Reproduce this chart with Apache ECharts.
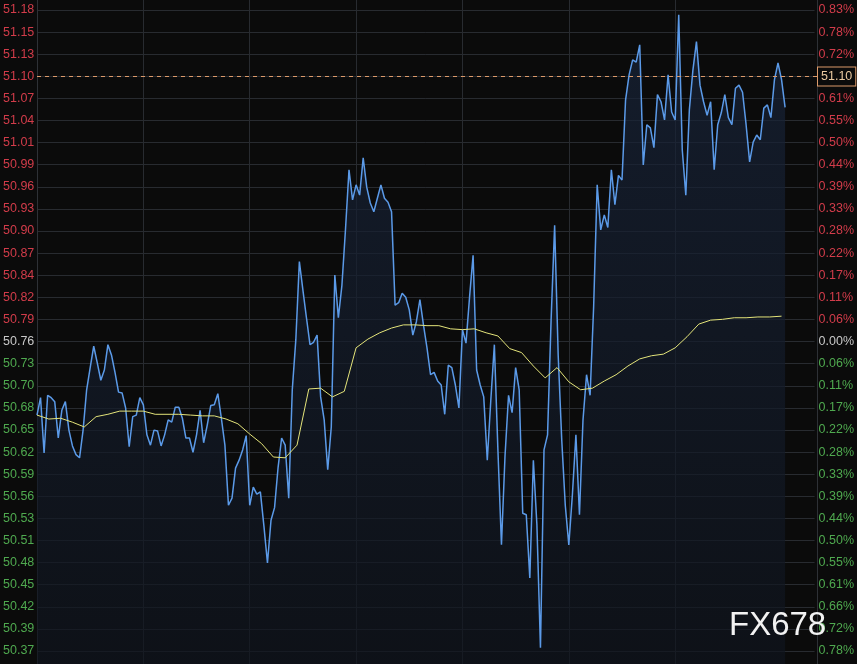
<!DOCTYPE html>
<html>
<head>
<meta charset="utf-8">
<script src="https://cdn.jsdelivr.net/npm/echarts@6/dist/echarts.min.js"></script>
<style>
html,body{margin:0;padding:0;background:#0b0b0b;}
#chart{width:857px;height:664px;}
</style>
</head>
<body>
<div id="chart"></div>
<script>
// Tick labels (top to bottom)
const leftLabels = ["51.18","51.15","51.13","51.10","51.07","51.04","51.01","50.99","50.96","50.93","50.90","50.87","50.84","50.82","50.79","50.76","50.73","50.70","50.68","50.65","50.62","50.59","50.56","50.53","50.51","50.48","50.45","50.42","50.39","50.37"];
const rightLabels = ["0.83%","0.78%","0.72%","0.66%","0.61%","0.55%","0.50%","0.44%","0.39%","0.33%","0.28%","0.22%","0.17%","0.11%","0.06%","0.00%","0.06%","0.11%","0.17%","0.22%","0.28%","0.33%","0.39%","0.44%","0.50%","0.55%","0.61%","0.66%","0.72%","0.78%"];

// Session: 1320 minutes, price sampled every 6 minutes, average every 20 minutes
const priceTimes = Array.from({length: 221}, (_, i) => i * 6);
const avgTimes = Array.from({length: 67}, (_, i) => i * 20);

const price = [
50.672,50.694,50.624,50.697,50.694,50.689,50.643,50.678,50.689,50.653,
50.633,50.622,50.618,50.653,50.704,50.732,50.759,50.738,50.716,50.729,
50.761,50.748,50.726,50.701,50.700,50.681,50.632,50.670,50.672,50.694,
50.685,50.647,50.634,50.653,50.652,50.633,50.647,50.666,50.663,50.682,
50.682,50.668,50.643,50.643,50.625,50.647,50.678,50.637,50.659,50.684,
50.685,50.699,50.668,50.634,50.558,50.567,50.605,50.615,50.628,50.646,
50.558,50.581,50.572,50.575,50.532,50.485,50.539,50.555,50.606,50.643,
50.634,50.567,50.704,50.767,50.866,50.830,50.795,50.761,50.764,50.773,
50.695,50.666,50.603,50.657,50.849,50.795,50.836,50.906,50.982,50.944,
50.963,50.950,50.997,50.960,50.940,50.929,50.946,50.963,50.946,50.941,
50.929,50.811,50.814,50.826,50.821,50.805,50.773,50.790,50.818,50.786,
50.757,50.723,50.726,50.715,50.710,50.673,50.735,50.732,50.710,50.681,
50.780,50.763,50.821,50.874,50.729,50.710,50.695,50.615,50.691,50.761,
50.628,50.508,50.620,50.697,50.675,50.732,50.704,50.548,50.546,50.466,
50.615,50.533,50.378,50.628,50.647,50.792,50.912,50.748,50.641,50.558,
50.508,50.571,50.647,50.546,50.666,50.723,50.697,50.809,50.963,50.906,
50.925,50.909,50.982,50.938,50.975,50.969,51.070,51.102,51.121,51.118,
51.140,50.988,51.039,51.035,51.010,51.077,51.068,51.045,51.102,51.055,
51.045,51.178,51.007,50.950,51.058,51.108,51.144,51.089,51.068,51.051,
51.068,50.982,51.039,51.054,51.077,51.048,51.039,51.085,51.089,51.080,
51.039,50.992,51.017,51.026,51.020,51.060,51.064,51.048,51.096,51.117,
51.096,51.061
];

const avgPrice = [
50.672,50.667,50.668,50.663,50.657,50.670,50.673,50.677,50.677,50.677,
50.673,50.673,50.673,50.672,50.671,50.671,50.667,50.661,50.648,50.636,
50.619,50.618,50.634,50.705,50.706,50.695,50.702,50.757,50.768,50.776,
50.782,50.786,50.786,50.785,50.785,50.781,50.780,50.781,50.776,50.772,
50.756,50.751,50.734,50.719,50.732,50.714,50.704,50.706,50.715,50.723,
50.734,50.743,50.747,50.749,50.757,50.771,50.787,50.792,50.793,50.795,
50.795,50.796,50.796,50.797
];

const lastPrice = 51.10;
const priceMin = 50.3574;
const priceMax = 51.1966;

const RED = '#d23c4a', GREEN = '#4fa94f', NEUTRAL = '#c8c8c8';
function labelColor(v) {
  const k = 29 - Math.round(v);
  if (k < 15) return RED;
  if (k === 15) return NEUTRAL;
  return GREEN;
}
const FONT = '"Liberation Sans", Arial, sans-serif';
const GRIDLINE = '#282b30';

const chart = echarts.init(document.getElementById('chart'), null, {renderer: 'canvas'});
chart.setOption({
  animation: false,
  backgroundColor: '#0b0b0b',
  grid: [
    {left: 37, right: 40, top: 0, bottom: 0},
    {left: 37, right: 40, top: 10, bottom: 13}
  ],
  xAxis: [
    {type: 'category', gridIndex: 0, data: priceTimes, boundaryGap: false,
     axisLine: {show: false}, axisTick: {show: false}, axisLabel: {show: false},
     splitLine: {show: true, interval: (idx) => idx % 30 === 0 && idx > 0 && idx < 210, lineStyle: {color: GRIDLINE, width: 1}}},
    {type: 'category', gridIndex: 0, data: avgTimes, boundaryGap: false, show: false},
    {type: 'value', gridIndex: 1, show: false, min: 0, max: 1}
  ],
  yAxis: [
    {type: 'value', gridIndex: 0, min: priceMin, max: priceMax, position: 'left',
     axisLine: {show: true, lineStyle: {color: '#2e3136'}}, axisTick: {show: false},
     axisLabel: {show: false}, splitLine: {show: false}},
    {type: 'value', gridIndex: 0, min: priceMin, max: priceMax, position: 'right',
     axisLine: {show: true, lineStyle: {color: '#2e3136'}}, axisTick: {show: false},
     axisLabel: {show: false}, splitLine: {show: false}},
    {type: 'value', gridIndex: 1, min: 0, max: 29, interval: 1, position: 'left',
     axisLine: {show: false}, axisTick: {show: false},
     axisLabel: {margin: 3, fontSize: 12.5, fontFamily: FONT,
       formatter: (v) => leftLabels[29 - Math.round(v)],
       color: (v) => labelColor(v)},
     splitLine: {show: true, lineStyle: {color: GRIDLINE, width: 1}}},
    {type: 'value', gridIndex: 1, min: 0, max: 29, interval: 1, position: 'right',
     axisLine: {show: false}, axisTick: {show: false},
     axisLabel: {margin: 4, fontSize: 12.5, fontFamily: FONT,
       formatter: (v) => rightLabels[29 - Math.round(v)],
       color: (v) => labelColor(v)},
     splitLine: {show: false}}
  ],
  series: [
    {type: 'line', name: 'price', xAxisIndex: 0, yAxisIndex: 0, data: price,
     showSymbol: false, symbol: 'none',
     lineStyle: {color: '#5b9ae8', width: 1.5},
     areaStyle: {origin: 'start', color: new echarts.graphic.LinearGradient(0, 0, 0, 1, [
        {offset: 0, color: '#18243a'}, {offset: 1, color: '#0f141d'}])},
     z: 3,
     markLine: {
       silent: true, symbol: 'none',
       lineStyle: {color: '#dc9a6a', type: [4, 4], width: 1},
       label: {show: true, position: 'end', distance: 1, formatter: () => lastPrice.toFixed(2),
         color: '#e9c9a0', fontSize: 12.5, fontFamily: FONT,
         backgroundColor: '#0b0b0b', borderColor: '#dc9a6a', borderWidth: 1,
         padding: [3, 3, 2, 3]},
       data: [{yAxis: lastPrice}]
     }},
    {type: 'line', name: 'avg', xAxisIndex: 1, yAxisIndex: 0, data: avgPrice,
     showSymbol: false, symbol: 'none',
     lineStyle: {color: '#e4e47a', width: 1}, z: 4}
  ],
  graphic: [
    {type: 'text', left: 729, top: 609, z: 100,
     style: {text: 'FX678', fill: '#f2f2f2', font: '33px "Liberation Sans", Arial, sans-serif'}}
  ]
});
</script>
</body>
</html>
